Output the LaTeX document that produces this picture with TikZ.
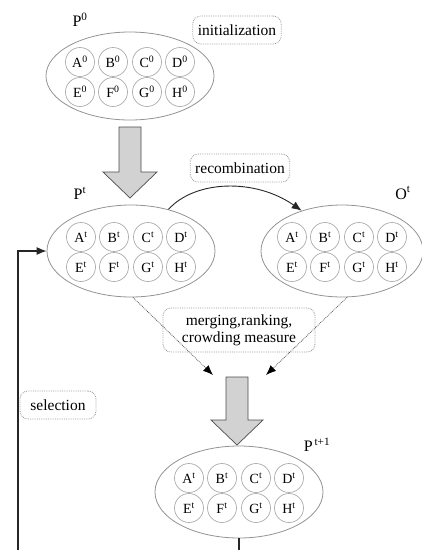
\documentclass[tikz,border=0pt]{standalone}
\usepackage{fontspec}
\setmainfont{Liberation Serif}
\usetikzlibrary{shapes.geometric,arrows.meta}
\newcommand\mkpop[3]{% #1 ellipse name, #2 prefix, #3 superscript
  \foreach \L/\dx/\dy in {A/-50/-14,B/-17/-14,C/17/-14,D/50/-14,E/-50/16,F/-17/16,G/17/16,H/50/16}{
    \node[indiv] (#2\L) at ([shift={(\dx,\dy)}]#1.center) {\L\textsuperscript{#3}};
  }}
\begin{document}
\begin{tikzpicture}[x=1pt,y=-1pt,
  pop/.style={ellipse,draw=gray!85,line width=0.8pt,minimum width=168pt,minimum height=92pt,inner sep=0pt},
  indiv/.style={circle,draw=gray!65,line width=0.7pt,minimum size=29pt,inner sep=0pt,font=\fontsize{14}{14}\selectfont},
  tag/.style={rounded corners=8pt,draw=gray!80,densely dotted,line width=0.8pt,font=\fontsize{15.5}{17}\selectfont,inner xsep=5pt,inner ysep=3pt,minimum height=28pt,align=center},
  lbl/.style={font=\fontsize{16}{16}\selectfont,inner sep=0pt},
  bigarrow/.style={fill=gray!35,draw=gray!60!black,line width=0.7pt},
  link/.style={-{Latex[length=10pt,width=8pt]},line width=0.9pt,black!85},
  dlink/.style={-{Latex[length=10pt,width=8pt,fill=black,color=black]},densely dotted,line width=0.8pt,gray!70!black},
  ]
\useasboundingbox (0,0) rectangle (422,550);

% populations
\node[pop,minimum height=88pt] (P0) at (130,76) {};
\node[pop] (P1) at (131,251) {};
\node[pop,minimum width=162pt] (O) at (342,251) {};
\node[pop] (Pn) at (239,492) {};
\mkpop{P0}{a}{0}
\mkpop{P1}{b}{t}
\mkpop{O}{c}{t}
\mkpop{Pn}{d}{t}

% labels
\node[lbl] (lP0) at (80,20) {P\textsuperscript{0}};
\node[lbl] (lP1) at (80,193) {P\textsuperscript{t}};
\node[lbl] (lO) at (403,193) {O\textsuperscript{t}};
\node[lbl] (lPn) at (317,445) {P\textsuperscript{\,t+1}};

% tags
\node[tag] (init) at (237,30) {initialization};
\node[tag] (recomb) at (240,168) {recombination};
\node[tag,minimum width=152pt,minimum height=44pt] (merge) at (239,330) {merging,ranking,\\crowding measure};
\node[tag,minimum width=76pt] (sel) at (58,405) {selection};

% big gray arrows
\coordinate (g1) at (130,127);
\coordinate (g2) at (237,377);
\filldraw[bigarrow] ([shift={(-11,0)}]g1) -- ([shift={(11,0)}]g1) -- ([shift={(11,45)}]g1) -- ([shift={(27,45)}]g1)
  -- ([shift={(0,71)}]g1) -- ([shift={(-27,45)}]g1) -- ([shift={(-11,45)}]g1) -- cycle;
\filldraw[bigarrow] ([shift={(-11,0)}]g2) -- ([shift={(11,0)}]g2) -- ([shift={(11,43)}]g2) -- ([shift={(26,43)}]g2)
  -- ([shift={(0,68)}]g2) -- ([shift={(-26,43)}]g2) -- ([shift={(-11,43)}]g2) -- cycle;

% recombination
\draw[link] (P1.48) .. controls (195,180) and (255,178) .. (O.135);

% merging lines
\coordinate (m1) at (213,375);
\coordinate (m2) at (266,375);
\draw[dlink] ([xshift=2pt]P1.south) -- (m1);
\draw[dlink] ([xshift=5pt]O.south) -- (m2);

% selection loop
\coordinate (loopA) at (239,580);
\coordinate (loopB) at (18,580);
\draw[link,line width=1.1pt] (Pn.south) -- (loopA) -- (loopB) |- (P1.west);
\end{tikzpicture}
\end{document}
